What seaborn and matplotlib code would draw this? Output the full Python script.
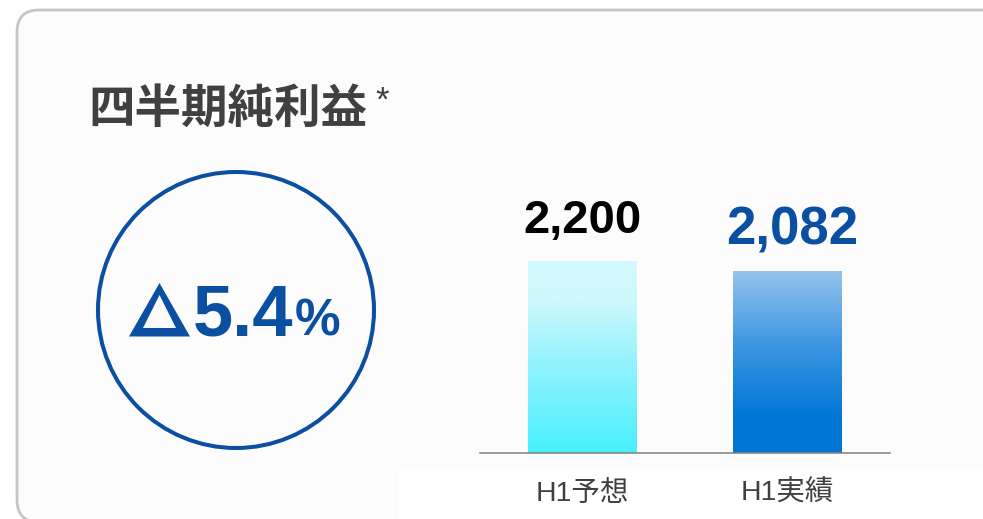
import numpy as np
import seaborn as sns
import matplotlib.pyplot as plt
from matplotlib.patches import FancyBboxPatch, Circle, Rectangle, Polygon
from matplotlib.colors import LinearSegmentedColormap

# data
categories = ['H1予想', 'H1実績']
values = [2200, 2082]
value_labels = ['2,200', '2,082']
change_text = '5.4'
title_text = '四半期純利益'

sns.set_theme(style='white')
plt.rcParams['font.family'] = ['Liberation Sans', 'Noto Sans CJK JP', 'DejaVu Sans']

W, H = 983, 519
fig = plt.figure(figsize=(W / 100, H / 100), dpi=100)
fig.patch.set_facecolor('white')

# background axes in pixel coords
bg = fig.add_axes([0, 0, 1, 1], zorder=0)
bg.set_xlim(0, W)
bg.set_ylim(H, 0)
bg.axis('off')

card_col = '#fcfcfc'
card = FancyBboxPatch((17, 10), 1000, 512, boxstyle='round,pad=0,rounding_size=22',
                      facecolor=card_col, edgecolor='#c6c6c6', linewidth=2)
bg.add_patch(card)
bg.add_patch(Rectangle((399, 467), W - 399, H - 467, facecolor='white', edgecolor='none'))

bg.text(88, 123, title_text, fontsize=33.5, fontweight='bold', color='#404040',
        family=['Noto Sans CJK JP'], va='baseline', ha='left')
bg.text(375, 111, '*', fontsize=25, color='#404040', va='baseline', ha='left')

blue = '#0b4fa2'
bg.add_patch(Circle((236, 310), 138, facecolor='none', edgecolor=blue, linewidth=2.9))
# open triangle
bg.add_patch(Polygon([(129, 336.5), (190, 336.5), (159.5, 283)], closed=True,
                     facecolor=blue, edgecolor='none'))
bg.add_patch(Polygon([(143, 328), (176, 328), (159.5, 295)], closed=True,
                     facecolor=card_col, edgecolor='none'))
bg.text(193, 336, change_text, fontsize=52, fontweight='bold', color=blue,
        va='baseline', ha='left')
bg.text(295, 336, '%', fontsize=37, fontweight='bold', color=blue,
        va='baseline', ha='left')

# bar chart
ymax = 3100
ax = fig.add_axes([480 / W, (H - 453) / H, 410 / W, (ymax * 192 / 2200) / H], zorder=2)
ax.patch.set_alpha(0)
sns.barplot(x=categories, y=values, ax=ax, width=0.527, color='#ffffff')

cmaps = [
    LinearSegmentedColormap.from_list('c1', [(0, '#48effe'), (0.5, '#98f3fd'),
                                             (0.8, '#cff8fd'), (1, '#d2f9fd')]),
    LinearSegmentedColormap.from_list('c2', [(0, '#0077d6'), (0.2, '#0077d6'),
                                             (0.6, '#3d97e2'), (1, '#95c3ec')]),
]
grad = np.linspace(0, 1, 256).reshape(-1, 1)
for p, cm in zip(ax.patches, cmaps):
    x0, y0 = p.get_x(), p.get_y()
    w, h = p.get_width(), p.get_height()
    im = ax.imshow(grad, extent=[x0, x0 + w, y0, y0 + h], origin='lower',
                   aspect='auto', cmap=cm, zorder=1)
    im.set_clip_path(p)
    p.set_facecolor('none')
    p.set_edgecolor('none')

label_styles = [dict(fontsize=34, color='black', xytext=(0, 20)),
                dict(fontsize=38, color=blue, xytext=(3.5, 19.5))]
for i, (v, lab) in enumerate(zip(values, value_labels)):
    ax.annotate(lab, (i, v), textcoords='offset points',
                ha='center', va='baseline', fontweight='bold', **label_styles[i])

ax.set_xlim(-0.5, 1.5)
ax.set_ylim(0, ymax)
ax.set_yticks([])
ax.set_xlabel('')
ax.set_ylabel('')
for s in ['top', 'right', 'left']:
    ax.spines[s].set_visible(False)
ax.spines['bottom'].set_color('#808080')
ax.spines['bottom'].set_linewidth(1.1)
ax.tick_params(axis='x', length=0, pad=20, labelsize=20.5, labelcolor='#404040')

fig.savefig('out.png', dpi=100, facecolor='white')
